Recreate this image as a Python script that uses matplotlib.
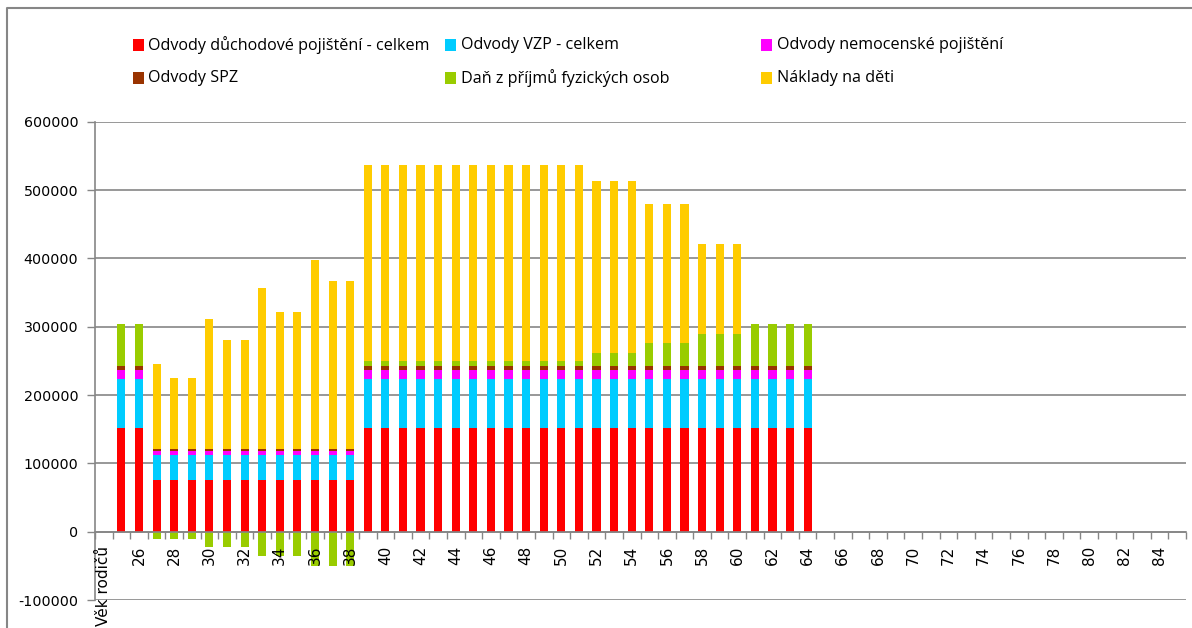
import matplotlib
matplotlib.use("Agg")
import matplotlib.pyplot as plt
from matplotlib.patches import Rectangle
from matplotlib.lines import Line2D

# ---------------- data ----------------
categories = ["Věk rodičů"] + [str(a) for a in range(25, 86)]
ages = list(range(25, 65))

duchodove = [151200, 151200,
             75600, 75600, 75600, 75600, 75600, 75600, 75600, 75600, 75600, 75600, 75600, 75600,
             151200, 151200, 151200, 151200, 151200, 151200, 151200, 151200, 151200, 151200,
             151200, 151200, 151200, 151200, 151200, 151200, 151200, 151200, 151200, 151200,
             151200, 151200, 151200, 151200, 151200, 151200]
vzp = [72900, 72900,
       36450, 36450, 36450, 36450, 36450, 36450, 36450, 36450, 36450, 36450, 36450, 36450,
       72900, 72900, 72900, 72900, 72900, 72900, 72900, 72900, 72900, 72900,
       72900, 72900, 72900, 72900, 72900, 72900, 72900, 72900, 72900, 72900,
       72900, 72900, 72900, 72900, 72900, 72900]
nemocenske = [12420, 12420,
              6210, 6210, 6210, 6210, 6210, 6210, 6210, 6210, 6210, 6210, 6210, 6210,
              12420, 12420, 12420, 12420, 12420, 12420, 12420, 12420, 12420, 12420,
              12420, 12420, 12420, 12420, 12420, 12420, 12420, 12420, 12420, 12420,
              12420, 12420, 12420, 12420, 12420, 12420]
spz = [6480, 6480,
       3240, 3240, 3240, 3240, 3240, 3240, 3240, 3240, 3240, 3240, 3240, 3240,
       6480, 6480, 6480, 6480, 6480, 6480, 6480, 6480, 6480, 6480,
       6480, 6480, 6480, 6480, 6480, 6480, 6480, 6480, 6480, 6480,
       6480, 6480, 6480, 6480, 6480, 6480]
dan = [61500, 61500,
       -10800, -10800, -10800, -22500, -22500, -22500,
       -35600, -35600, -35600, -50200, -50200, -50200,
       7300, 7300, 7300, 7300, 7300, 7300, 7300, 7300, 7300, 7300, 7300, 7300, 7300,
       19000, 19000, 19000, 33700, 33700, 33700, 46900, 46900, 46900,
       61500, 61500, 61500, 61500]
naklady = [0, 0,
           123400, 102800, 102800, 189500, 158700, 158700,
           234900, 199800, 199800, 275900, 245100, 245100,
           286200, 286200, 286200, 286200, 286200, 286200, 286200, 286200, 286200, 286200,
           286200, 286200, 286200,
           251100, 251100, 251100, 202700, 202700, 202700, 131000, 131000, 131000,
           0, 0, 0, 0]

series_names = ["Odvody důchodové pojištění - celkem", "Odvody VZP - celkem",
                "Odvody nemocenské pojištění", "Odvody SPZ",
                "Daň z příjmů fyzických osob", "Náklady na děti"]
colors = ["#FF0000", "#00CCFF", "#FF00FF", "#993300", "#99CC00", "#FFCC00"]

yticks = [-100000, 0, 100000, 200000, 300000, 400000, 500000, 600000]

# ---------------- figure ----------------
W, H = 1192, 628
fig = plt.figure(figsize=(W / 100, H / 100), dpi=100)
fig.patch.set_facecolor("white")

ax = fig.add_axes([95 / W, 1 - 600 / H, 1091 / W, (600 - 121.7) / H])

pos = [categories.index(str(a)) for a in ages]
bw = 0.46
grid_c = "#868686"

base = [0.0] * len(ages)
for vals, c in zip([duchodove, vzp, nemocenske, spz], colors[:4]):
    ax.bar(pos, vals, bw, bottom=base, color=c, zorder=3, linewidth=0)
    base = [b + v for b, v in zip(base, vals)]

dan_bottom = [b if d >= 0 else 0 for b, d in zip(base, dan)]
ax.bar(pos, dan, bw, bottom=dan_bottom, color=colors[4], zorder=3, linewidth=0)
top = [b + max(d, 0) for b, d in zip(base, dan)]
ax.bar(pos, naklady, bw, bottom=top, color=colors[5], zorder=3, linewidth=0)

ax.set_xlim(-0.5, len(categories) - 0.5)
ax.set_ylim(-100000, 600000)
ax.set_yticks(yticks)
ax.set_yticklabels([str(v) for v in yticks], fontsize=10.3, family="DejaVu Sans")
ax.tick_params(axis="y", length=6, color=grid_c, width=1, pad=6)
for v in yticks:
    ax.axhline(v, color=grid_c, lw=1.2, zorder=1)

ax.spines["top"].set_visible(False)
ax.spines["right"].set_visible(False)
ax.spines["left"].set_color(grid_c)
ax.spines["left"].set_linewidth(1.2)
ax.spines["bottom"].set_position(("data", 0))
ax.spines["bottom"].set_color(grid_c)
ax.spines["bottom"].set_linewidth(1.2)
ax.spines["bottom"].set_zorder(4)

lab_idx = list(range(0, len(categories), 2))
ax.set_xticks(lab_idx)
ax.set_xticklabels([categories[i] for i in lab_idx], rotation=90, fontsize=11,
                   family="DejaVu Sans", va="top", ha="center")
ax.tick_params(axis="x", which="major", length=0, pad=10)
ax.set_xticks([i - 0.5 for i in range(len(categories) + 1)], minor=True)
ax.tick_params(axis="x", which="minor", length=5, color=grid_c, width=1, direction="out")
ax.xaxis.set_zorder(10)

# ---------------- legend (manual, Excel-like layout) ----------------
def fx(px):
    return px / W

def fy(py):
    return 1 - py / H

leg = [(132.5, 45, 0), (445, 45, 1), (761, 45, 2),
       (132.5, 78, 3), (445, 78, 4), (761, 78, 5)]
for x0, yc, i in leg:
    fig.add_artist(Rectangle((fx(x0), fy(yc + 5.5)), 11 / W, 11 / H,
                             transform=fig.transFigure, color=colors[i], lw=0))
    fig.text(fx(x0 + 16), fy(yc), series_names[i], fontsize=11.6, family="Open Sans",
             va="center", ha="left")

# chart-area border (top and left visible)
fig.add_artist(Line2D([fx(7), fx(7), 1.02], [-0.02, fy(8), fy(8)],
                      transform=fig.transFigure, color=grid_c, lw=1.5))

fig.savefig("out.png", dpi=100)
